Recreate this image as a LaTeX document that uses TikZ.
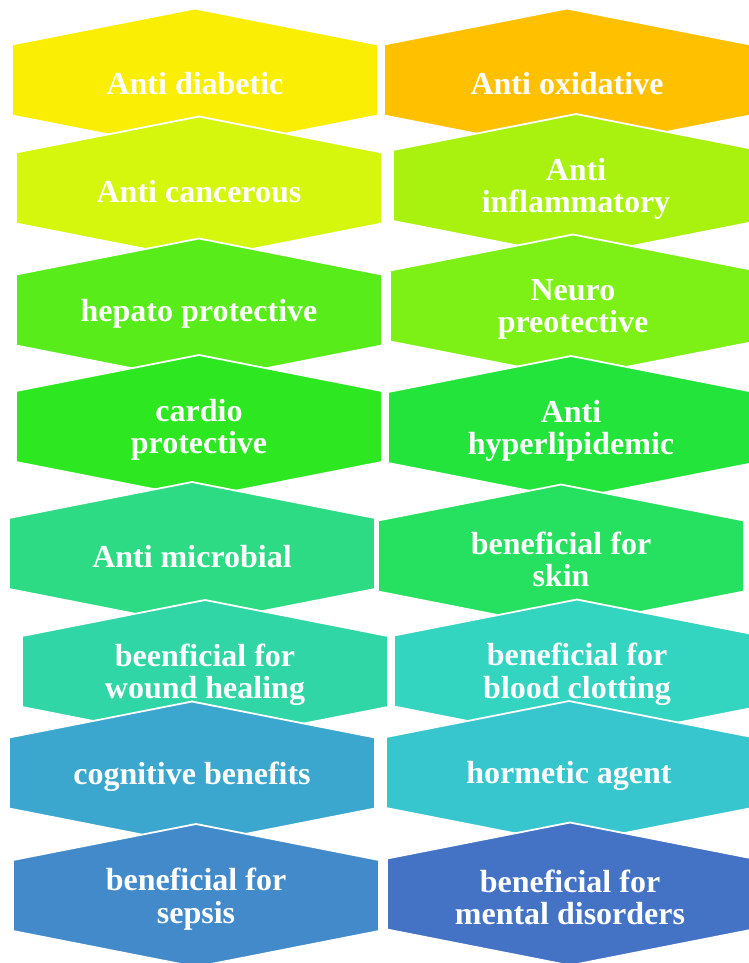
\documentclass[tikz,border=0pt]{standalone}
\usepackage{fontspec}
\setmainfont{Liberation Serif}

\definecolor{cdiab}{HTML}{F9EE04}
\definecolor{coxid}{HTML}{FFC000}
\definecolor{ccanc}{HTML}{D5F70E}
\definecolor{cinfl}{HTML}{A9F210}
\definecolor{chepa}{HTML}{58EC1A}
\definecolor{cneur}{HTML}{7DF015}
\definecolor{ccard}{HTML}{2DE820}
\definecolor{chypl}{HTML}{22E43A}
\definecolor{cmicr}{HTML}{2CDB84}
\definecolor{cskin}{HTML}{26E060}
\definecolor{cwoun}{HTML}{30D6A5}
\definecolor{cclot}{HTML}{33D4C0}
\definecolor{ccogn}{HTML}{3CA7CE}
\definecolor{chorm}{HTML}{38C6CE}
\definecolor{cseps}{HTML}{428AC9}
\definecolor{cment}{HTML}{4472C4}

% hexagon with pointed top and bottom: name, centre, colour, text
\newcommand{\hexcell}[4]{%
  \filldraw[cell=#3, shift={(#2)}]
    (-183,-35.5) -- (0,-71.5) -- (183,-35.5) -- (183,35.5)
    -- (0,71.5) -- (-183,35.5) -- cycle;
  \node[celltext] (#1) at (#2) {#4};
}

\begin{document}
\begin{tikzpicture}[
    x=1pt, y=-1pt,
    cell/.style={fill=#1, draw=white, line width=1.8pt, line join=miter},
    celltext/.style={text=white, align=center, yshift=-3.5pt,
      font=\bfseries\fontsize{32pt}{32.5pt}\selectfont}
  ]
    \useasboundingbox (0,0) rectangle (749,963);
    \clip (0,0) rectangle (749,963);

    % Left column
    \hexcell{diabetic}{195,80}{cdiab}{Anti diabetic}
    \hexcell{cancerous}{199,188}{ccanc}{Anti cancerous}
    \hexcell{hepato}{199,310}{chepa}{hepato protective}
    \hexcell{cardio}{199,426.5}{ccard}{cardio\\protective}
    \hexcell{microbial}{192,553.5}{cmicr}{Anti microbial}
    \hexcell{wound}{205,671.5}{cwoun}{beenficial for\\wound healing}
    \hexcell{cognitive}{192,773}{ccogn}{cognitive benefits}
    \hexcell{sepsis}{196,895.5}{cseps}{beneficial for\\sepsis}

    % Right column
    \hexcell{oxidative}{567,80}{coxid}{Anti oxidative}
    \hexcell{inflam}{576,185.5}{cinfl}{Anti\\inflammatory}
    \hexcell{neuro}{573,306}{cneur}{Neuro\\preotective}
    \hexcell{hyperlip}{571,427.5}{chypl}{Anti\\hyperlipidemic}
    \hexcell{skin}{561,556}{cskin}{beneficial for\\skin}
    \hexcell{clotting}{577,671}{cclot}{beneficial for\\blood clotting}
    \hexcell{hormetic}{569,772.5}{chorm}{hormetic agent}
    \hexcell{mental}{570,894}{cment}{beneficial for\\mental disorders}
  \end{tikzpicture}
\end{document}
